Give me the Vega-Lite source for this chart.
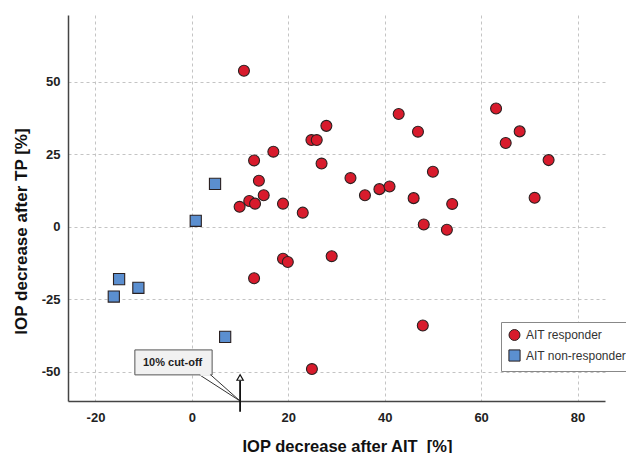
{
  "$schema": "https://vega.github.io/schema/vega-lite/v6.json",
  "autosize": {"type": "none"},
  "padding": {"left": 68, "top": 15, "right": 21, "bottom": 52},
  "width": 537,
  "height": 386,
  "background": "white",
  "config": {"view": {"stroke": null}, "font": "Liberation Sans"},
  "datasets": {
    "pts": [
      {"ait": 10.8, "tp": 53.8, "group": "AIT responder"},
      {"ait": 27.9, "tp": 34.8, "group": "AIT responder"},
      {"ait": 24.8, "tp": 29.9, "group": "AIT responder"},
      {"ait": 25.9, "tp": 29.9, "group": "AIT responder"},
      {"ait": 16.9, "tp": 25.9, "group": "AIT responder"},
      {"ait": 12.9, "tp": 22.9, "group": "AIT responder"},
      {"ait": 26.9, "tp": 21.8, "group": "AIT responder"},
      {"ait": 13.9, "tp": 15.9, "group": "AIT responder"},
      {"ait": 14.9, "tp": 10.9, "group": "AIT responder"},
      {"ait": 11.9, "tp": 8.9, "group": "AIT responder"},
      {"ait": 13.1, "tp": 8.0, "group": "AIT responder"},
      {"ait": 9.9, "tp": 6.9, "group": "AIT responder"},
      {"ait": 18.9, "tp": 8.0, "group": "AIT responder"},
      {"ait": 23.0, "tp": 4.9, "group": "AIT responder"},
      {"ait": 18.9, "tp": -11.0, "group": "AIT responder"},
      {"ait": 19.9, "tp": -12.1, "group": "AIT responder"},
      {"ait": 29.0, "tp": -10.1, "group": "AIT responder"},
      {"ait": 12.9, "tp": -17.7, "group": "AIT responder"},
      {"ait": 42.9, "tp": 38.9, "group": "AIT responder"},
      {"ait": 46.9, "tp": 32.8, "group": "AIT responder"},
      {"ait": 32.9, "tp": 16.8, "group": "AIT responder"},
      {"ait": 35.9, "tp": 10.9, "group": "AIT responder"},
      {"ait": 38.9, "tp": 13.0, "group": "AIT responder"},
      {"ait": 41.0, "tp": 13.9, "group": "AIT responder"},
      {"ait": 50.0, "tp": 19.0, "group": "AIT responder"},
      {"ait": 46.0, "tp": 9.9, "group": "AIT responder"},
      {"ait": 54.0, "tp": 7.9, "group": "AIT responder"},
      {"ait": 48.1, "tp": 0.8, "group": "AIT responder"},
      {"ait": 52.9, "tp": -1.0, "group": "AIT responder"},
      {"ait": 63.1, "tp": 40.8, "group": "AIT responder"},
      {"ait": 68.0, "tp": 32.9, "group": "AIT responder"},
      {"ait": 65.1, "tp": 28.9, "group": "AIT responder"},
      {"ait": 74.0, "tp": 23.0, "group": "AIT responder"},
      {"ait": 71.1, "tp": 10.0, "group": "AIT responder"},
      {"ait": 47.9, "tp": -34.0, "group": "AIT responder"},
      {"ait": 24.9, "tp": -49.0, "group": "AIT responder"},
      {"ait": 4.8, "tp": 14.8, "group": "AIT non-responder"},
      {"ait": 0.8, "tp": 2.1, "group": "AIT non-responder"},
      {"ait": -15.1, "tp": -18.0, "group": "AIT non-responder"},
      {"ait": -11.1, "tp": -21.0, "group": "AIT non-responder"},
      {"ait": -16.2, "tp": -24.0, "group": "AIT non-responder"},
      {"ait": 6.9, "tp": -37.9, "group": "AIT non-responder"}
    ],
    "one": [{}]
  },
  "layer": [
    {
      "data": {"name": "pts"},
      "mark": {"type": "point", "filled": true, "opacity": 1, "stroke": "#2a2020", "strokeWidth": 1.1},
      "encoding": {
        "x": {
          "field": "ait", "type": "quantitative",
          "scale": {"domain": [-25.7, 85.7], "nice": false, "zero": false},
          "axis": {
            "values": [-20, 0, 20, 40, 60, 80],
            "labelExpr": "toString(datum.value)",
            "title": "IOP decrease after AIT\u00a0\u00a0[%]",
            "grid": true, "gridDash": [3, 3], "gridColor": "#c4c4c4", "gridWidth": 1,
            "domainColor": "#444", "domainWidth": 1.5, "ticks": false,
            "labelFont": "Liberation Sans", "labelFontWeight": "bold", "labelFontSize": 13, "labelColor": "#222",
            "labelPadding": 10,
            "titleFont": "Liberation Sans", "titleFontWeight": "bold", "titleFontSize": 16.5, "titleColor": "#111",
            "titleX": 279, "titleY": 50, "titleBaseline": "alphabetic", "titleAlign": "center"
          }
        },
        "y": {
          "field": "tp", "type": "quantitative",
          "scale": {"domain": [-60, 73], "nice": false, "zero": false},
          "axis": {
            "values": [-50, -25, 0, 25, 50],
            "labelExpr": "toString(datum.value)",
            "title": "IOP decrease after TP [%]",
            "grid": true, "gridDash": [3, 3], "gridColor": "#c4c4c4", "gridWidth": 1,
            "domainColor": "#444", "domainWidth": 1.5, "ticks": false,
            "labelFont": "Liberation Sans", "labelFontWeight": "bold", "labelFontSize": 13, "labelColor": "#222",
            "labelPadding": 8,
            "titleFont": "Liberation Sans", "titleFontWeight": "bold", "titleFontSize": 17, "titleColor": "#111",
            "titleX": -55, "titleY": 216, "titleAngle": -90, "titleBaseline": "top", "titleAlign": "center"
          }
        },
        "color": {
          "field": "group", "type": "nominal",
          "scale": {"domain": ["AIT responder", "AIT non-responder"], "range": ["#d81b2c", "#5b8fd0"]},
          "legend": {
            "orient": "none", "legendX": 433, "legendY": 307, "title": null,
            "strokeColor": "#888", "fillColor": "white", "padding": 7,
            "labelFont": "Liberation Sans", "labelFontSize": 12, "labelColor": "#333",
            "symbolSize": 100, "symbolStrokeColor": "#2a2020", "symbolStrokeWidth": 1,
            "rowPadding": 4, "labelOffset": 5
          }
        },
        "shape": {
          "field": "group", "type": "nominal",
          "scale": {"domain": ["AIT responder", "AIT non-responder"], "range": ["circle", "square"]}
        },
        "size": {
          "field": "group", "type": "nominal",
          "scale": {"domain": ["AIT responder", "AIT non-responder"], "range": [120, 125]},
          "legend": null
        }
      }
    },
    {
      "data": {"name": "one"},
      "mark": {"type": "rule", "stroke": "#333", "strokeWidth": 1},
      "encoding": {"x": {"datum": 1.6}, "y": {"datum": -51.0}, "x2": {"datum": 10}, "y2": {"datum": -60}}
    },
    {
      "data": {"name": "one"},
      "mark": {"type": "rule", "stroke": "#333", "strokeWidth": 1},
      "encoding": {"x": {"datum": 3.9}, "y": {"datum": -51.0}, "x2": {"datum": 10}, "y2": {"datum": -60}}
    },
    {
      "data": {"name": "one"},
      "mark": {"type": "rect", "fill": "#f1f1f1", "stroke": "#555", "strokeWidth": 1},
      "encoding": {"x": {"datum": -11.83}, "x2": {"datum": 4.2}, "y": {"datum": -42.4}, "y2": {"datum": -51.0}}
    },
    {
      "data": {"name": "one"},
      "mark": {"type": "rule", "stroke": "#f1f1f1", "strokeWidth": 2},
      "encoding": {"x": {"datum": 1.75}, "y": {"datum": -51.0}, "x2": {"datum": 3.75}, "y2": {"datum": -51.0}}
    },
    {
      "data": {"name": "one"},
      "mark": {"type": "text", "text": "10% cut-off", "font": "Liberation Sans", "fontWeight": "bold", "fontSize": 11, "color": "#222", "align": "center", "baseline": "middle"},
      "encoding": {"x": {"datum": -4.0}, "y": {"datum": -47.0}}
    },
    {
      "data": {"name": "one"},
      "mark": {"type": "rule", "stroke": "#111", "strokeWidth": 1.8},
      "encoding": {"x": {"datum": 10}, "y": {"datum": -63.7}, "y2": {"datum": -53.0}}
    },
    {
      "data": {"name": "one"},
      "mark": {"type": "point", "shape": "triangle-up", "filled": true, "fill": "white", "stroke": "#111", "strokeWidth": 1.2, "size": 40, "opacity": 1},
      "encoding": {"x": {"datum": 10}, "y": {"datum": -51.9}}
    }
  ]
}
